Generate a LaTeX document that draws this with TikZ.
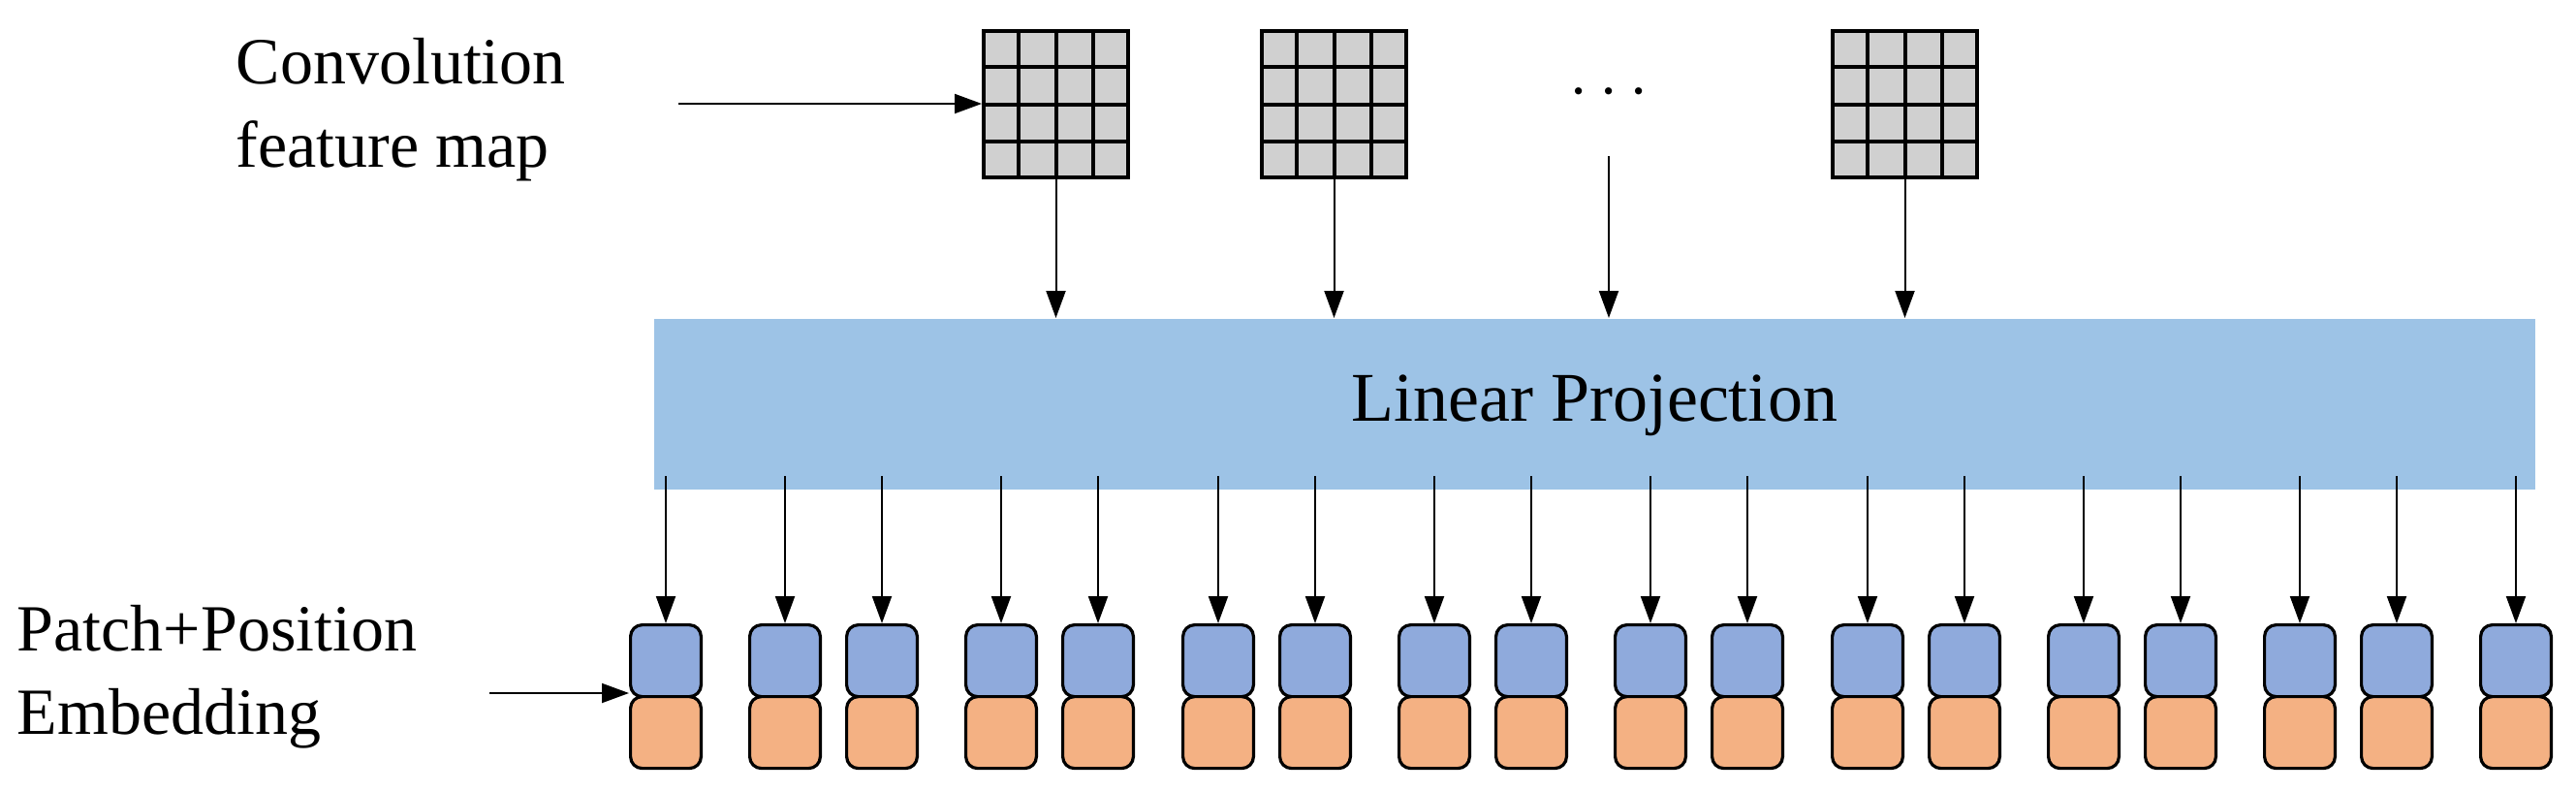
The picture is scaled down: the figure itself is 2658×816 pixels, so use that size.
\documentclass[tikz,border=0pt]{standalone}
\usepackage{fontspec}
\setmainfont{Liberation Serif}
\usetikzlibrary{arrows.meta,calc}
\definecolor{projblue}{HTML}{9DC3E6}
\definecolor{tokblue}{HTML}{8FAADC}
\definecolor{tokorange}{HTML}{F4B183}
\definecolor{gridgray}{HTML}{D0D0D0}
\begin{document}
\begin{tikzpicture}[x=0.25pt,y=-0.25pt,
  arr/.style={line width=0.5pt,-{Triangle[length=7pt,width=5pt]}},
  lbl/.style={font=\fontsize{17}{20}\selectfont,anchor=base west,inner sep=0},
  tok/.style={draw=black,line width=0.8pt,rounded corners=3pt,minimum width=18.2pt,minimum height=18.5pt,inner sep=0,anchor=north west}]
\useasboundingbox (0,0) rectangle (2658,816);
% projection
\node[fill=projblue,minimum width=485.25pt,minimum height=44pt,inner sep=0,anchor=north west] (proj) at (674,328) {};
\node[font=\fontsize{18}{21}\selectfont] (projtext) at (1645,418) {Linear Projection};
% grids
\foreach \n/\gx in {1/1013,2/1300,3/1889}{
  \node[fill=gridgray,draw=black,line width=1pt,minimum width=37.25pt,minimum height=37.75pt,inner sep=0,anchor=north west] (g\n) at (\gx,30) {};
  \foreach \i in {1,2,3}{
    \draw[line width=1pt] ($(g\n.north west)!\i/4!(g\n.north east)$) -- ($(g\n.south west)!\i/4!(g\n.south east)$);
    \draw[line width=1pt] ($(g\n.north west)!\i/4!(g\n.south west)$) -- ($(g\n.north east)!\i/4!(g\n.south east)$);
  }
  \draw[arr] (g\n.south) -- (g\n.south |- proj.north);
}
\node[font=\fontsize{18}{21}\selectfont] (dots) at (1660,96) {$\cdots$};
\coordinate (dotsbot) at (1660,161);
\draw[arr] (dotsbot) -- (dotsbot |- proj.north);
% labels
\node[lbl] (conv1) at (243,86) {Convolution};
\node[lbl] (conv2) at (243,172) {feature map};
\coordinate (convstart) at (700,107);
\draw[arr] (convstart) -- (g1.west |- convstart);
\node[lbl] (pe1) at (17,671) {Patch+Position};
\node[lbl] (pe2) at (17,757) {Embedding};
% tokens
\def\toklist{649,772,872,995,1095,1219,1319,1442,1542,1665,1765,1889,1989,2112,2212,2335,2435,2558}
\foreach \tx [count=\k] in \toklist{
  \node[tok,fill=tokblue] (b\k) at (\tx,643) {};
  \node[tok,fill=tokorange] (o\k) at (\tx,717) {};
  \coordinate (s\k) at ($(b\k.north)+(0,-152)$);
  \draw[arr] (s\k) -- (b\k.north);
}
\coordinate (pestart) at (505,715);
\draw[arr] (pestart) -- (b1.west |- pestart);
\end{tikzpicture}
\end{document}
